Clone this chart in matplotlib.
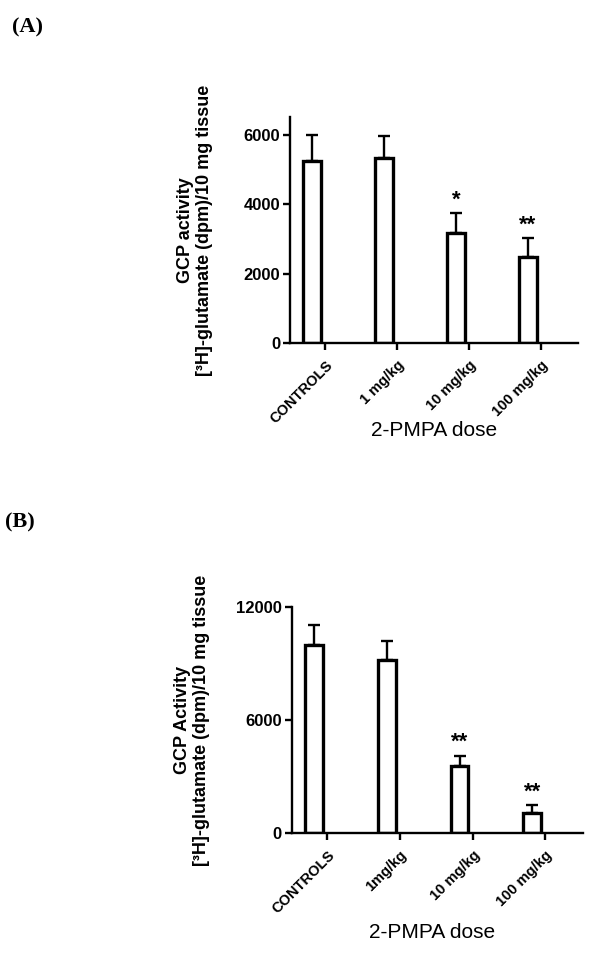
import matplotlib
matplotlib.use("Agg")
import matplotlib.pyplot as plt

plt.rcParams['font.family'] = ['Liberation Sans', 'DejaVu Sans']

# panel A
labels_a = ['CONTROLS', '1 mg/kg', '10 mg/kg', '100 mg/kg']
means_a = [5260, 5330, 3170, 2480]
sem_a = [740, 630, 580, 550]
stars_a = ['', '', '*', '**']
yticks_a = [0, 2000, 4000, 6000]

# panel B
labels_b = ['CONTROLS', '1mg/kg', '10 mg/kg', '100 mg/kg']
means_b = [9970, 9200, 3530, 1030]
sem_b = [1070, 980, 550, 430]
stars_b = ['', '', '**', '**']
yticks_b = [0, 6000, 12000]


def panel(ax, labels, means, errs, stars, yticks, ytop):
    x = list(range(len(labels)))
    ax.bar(x, means, width=0.245, color='white', edgecolor='black',
           linewidth=2.4, zorder=2)
    ax.errorbar(x, means, yerr=[[0] * len(x), errs], fmt='none',
                ecolor='black', elinewidth=1.7, capsize=4.5, capthick=1.7,
                zorder=1)
    for xi, m, e, s in zip(x, means, errs, stars):
        if s:
            ax.annotate(s, (xi, m + e), xytext=(0, 2), textcoords='offset points',
                        ha='center', va='bottom', fontsize=16, fontweight='bold')
    ax.set_xlim(-0.31, 3.70)
    ax.set_ylim(0, ytop)
    ax.set_yticks(yticks)
    ax.set_yticklabels([str(v) for v in yticks], fontsize=12, fontweight='bold')
    ax.set_xticks([xi + 0.18 for xi in x])
    ax.set_xticklabels(labels, rotation=45, ha='right', va='top',
                       rotation_mode='anchor', fontsize=10.5, fontweight='bold')
    for side in ['top', 'right']:
        ax.spines[side].set_visible(False)
    for side in ['left', 'bottom']:
        ax.spines[side].set_linewidth(1.7)
    ax.tick_params(width=1.7, length=5)
    ax.tick_params(axis='y', pad=2)
    ax.tick_params(axis='x', pad=6)


fig = plt.figure(figsize=(6, 9.66), dpi=100)

ax1 = fig.add_axes([0.4833, 0.6449, 0.48, 0.2343])
panel(ax1, labels_a, means_a, sem_a, stars_a, yticks_a, 6530)
ax2 = fig.add_axes([0.486, 0.138, 0.486, 0.2336])
panel(ax2, labels_b, means_b, sem_b, stars_b, yticks_b, 12000)

H = 966.0
fig.text(195 / 600, 1 - 230 / H, 'GCP activity\n[³H]-glutamate (dpm)/10 mg tissue',
         rotation=90, ha='center', va='center', fontsize=13, fontweight='bold',
         linespacing=1.15)
fig.text(192 / 600, 1 - 720 / H, 'GCP Activity\n[³H]-glutamate (dpm)/10 mg tissue',
         rotation=90, ha='center', va='center', fontsize=13, fontweight='bold',
         linespacing=1.15)
fig.text(434 / 600, 1 - 430 / H, '2-PMPA dose', ha='center', va='center', fontsize=15)
fig.text(432 / 600, 1 - 932 / H, '2-PMPA dose', ha='center', va='center', fontsize=15)

fig.text(12 / 600, 1 - 27 / H, '(A)', ha='left', va='center', fontsize=16,
         fontweight='bold', family='Liberation Serif')
fig.text(5 / 600, 1 - 522 / H, '(B)', ha='left', va='center', fontsize=16,
         fontweight='bold', family='Liberation Serif')

fig.savefig('out.png', dpi=100)
